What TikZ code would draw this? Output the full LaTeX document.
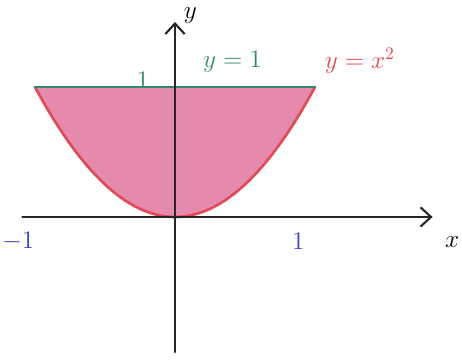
\documentclass[tikz,border=0pt]{standalone}
\definecolor{curvered}{RGB}{228, 72, 82}
\definecolor{regionpink}{RGB}{222, 118, 158}
\definecolor{linegreen}{RGB}{50, 138, 110}
\definecolor{tickblue}{RGB}{60, 62, 196}
\usetikzlibrary{arrows.meta}

\begin{document}
\begin{tikzpicture}[x=2.8cm, y=2.6cm, line cap=round,
  axis/.style={-{Straight Barb[length=6pt, width=11pt, line width=1.2pt]}, line width=1.2pt, black!85},
  lbl/.style={font=\Large, inner sep=1pt}]
  \useasboundingbox (-1.25,-1.108) rectangle (2.05,1.669);
  % axes end points
  \coordinate (xstart) at (-1.09,0);
  \coordinate (xend) at (1.84,0);
  \coordinate (ystart) at (0,-1.04);
  \coordinate (yend) at (0,1.5);
  \coordinate (left) at (-1,1);
  \coordinate (right) at (1,1);
  % shaded region between the curves
  \fill[regionpink!85] (left) -- plot[domain=-1:1, samples=60] (\x,{\x*\x}) -- cycle;
  \draw[curvered, line width=1.5pt] plot[domain=-1:1, samples=60] (\x,{\x*\x});
  \draw[linegreen, line width=1.5pt] (left) -- (right);
  \draw[axis] (xstart) -- (xend);
  \draw[axis] (ystart) -- (yend);
  % labels
  \node[lbl] (xlab) at (1.98,-0.19) {$x$};
  \node[lbl] (ylab) at (0.11,1.55) {$y$};
  \node[lbl, tickblue] (mone) at (-1.12,-0.19) {$-1$};
  \node[lbl, tickblue] (pone) at (0.88,-0.19) {$1$};
  \node[lbl, linegreen] (yone) at (-0.23,1.05) {$1$};
  \node[lbl, linegreen] (lineeq) at (0.41,1.19) {$y=1$};
  \node[lbl, curvered] (curveeq) at (1.32,1.2) {$y=x^2$};
\end{tikzpicture}
\end{document}
